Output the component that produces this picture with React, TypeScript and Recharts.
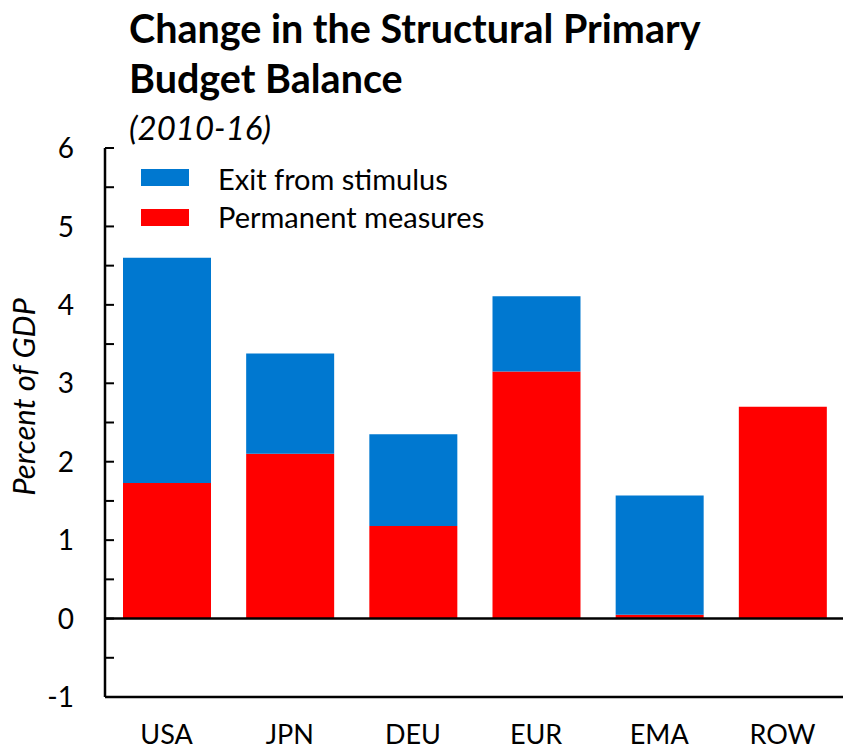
import React from "react";
import { BarChart, Bar, XAxis, YAxis, ReferenceLine } from "recharts";

const regions = ["USA", "JPN", "DEU", "EUR", "EMA", "ROW"];
const permanentMeasures = [1.73, 2.1, 1.18, 3.15, 0.05, 2.7];
const exitFromStimulus = [2.87, 1.28, 1.17, 0.96, 1.52, 0];
const yTicks = [-1, -0.5, 0, 0.5, 1, 1.5, 2, 2.5, 3, 3.5, 4, 4.5, 5, 5.5, 6];

const BLUE = "#0078d0";
const RED = "#ff0000";
const FONT = "Lato, 'Open Sans', sans-serif";

const data = regions.map((region, i) => ({
  region,
  permanent: permanentMeasures[i],
  exit: exitFromStimulus[i],
}));

// ticks point into the plot; only whole numbers get a label
function YTick(props: any) {
  const { x, y, payload } = props;
  const v = payload.value as number;
  const whole = Number.isInteger(v);
  return (
    <g>
      <line x1={x} x2={x + 9} y1={y} y2={y} stroke="#000" strokeWidth={2} />
      {whole && (
        <text x={x - 31} y={y} dy="0.36em" textAnchor="end" fontSize={28} fill="#000" fontFamily={FONT}>
          {v}
        </text>
      )}
    </g>
  );
}

export default function App() {
  return (
    <div style={{ position: "absolute", left: 0, top: 0, width: 843, height: 752, background: "#fff", overflow: "hidden" }}>
      <BarChart
        width={843}
        height={752}
        data={data}
        margin={{ top: 148, right: -1, bottom: 0, left: 0 }}
        barSize={88}
      >
        <XAxis
          dataKey="region"
          axisLine={{ stroke: "#000", strokeWidth: 2.5 }}
          tickLine={false}
          tickSize={0}
          tickMargin={28}
          tick={{ fontSize: 27, fill: "#000", fontFamily: FONT }}
          height={55}
        />
        <YAxis
          type="number"
          domain={[-1, 6]}
          ticks={yTicks}
          interval={0}
          width={105}
          axisLine={{ stroke: "#000", strokeWidth: 2.5 }}
          tickLine={false}
          tickSize={0}
          tickMargin={0}
          tick={<YTick />}
        />
        <Bar dataKey="permanent" stackId="a" fill={RED} isAnimationActive={false} />
        <Bar dataKey="exit" stackId="a" fill={BLUE} isAnimationActive={false} />
        <ReferenceLine y={0} stroke="#000" strokeWidth={2.5} />
      </BarChart>

      {/* title, legend and axis title */}
      <svg width={843} height={752} style={{ position: "absolute", left: 0, top: 0, pointerEvents: "none" }}>
        <g fontFamily={FONT} fill="#000">
          <text x={129} y={43} fontSize={39.5} fontWeight={700}>Change in the Structural Primary</text>
          <text x={129} y={93} fontSize={39.5} fontWeight={700}>Budget Balance</text>
          <text x={129} y={140} fontSize={33} fontStyle="italic">(2010-16)</text>

          <rect x={141} y={169} width={48} height={17} fill={BLUE} />
          <text x={218} y={190} fontSize={29}>Exit from stimulus</text>
          <rect x={141} y={209} width={48} height={17} fill={RED} />
          <text x={218} y={228} fontSize={29}>Permanent measures</text>

          <text x={0} y={0} fontSize={31} fontStyle="italic" textAnchor="middle" transform="translate(35 397) rotate(-90)">
            Percent of GDP
          </text>
        </g>
      </svg>
    </div>
  );
}
